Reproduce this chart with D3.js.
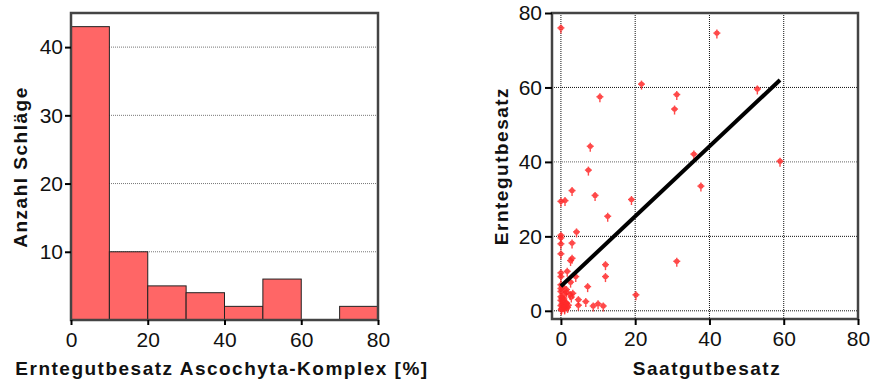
<!DOCTYPE html>
<html><head><meta charset="utf-8">
<script src="https://cdn.jsdelivr.net/npm/d3@7"></script>
<style>body{margin:0;background:#fff}svg{display:block}text{font-family:"Liberation Sans",Arial,sans-serif;fill:#111}</style>
</head><body><svg id="c" width="871" height="380"></svg>
<script>
// Histogram data
const binStarts = [0,10,20,30,40,50,60,70];
const binCounts = [43,10,5,4,2,6,0,2];
const histXTicks = [0,20,40,60,80];
const histYTicks = [10,20,30,40];
// Scatter data
const seedX = [0,10.5,21.7,31.2,30.6,7.9,7.4,42,52.9,35.8,59,37.7,31.2,
  0,1.1,3,9.2,19,12.6,4.2,0,0,3,0,0,3,2.6,12,1.7,0,0,4,12,0,2.6,7.2,0,0.6,1.5,0,1,1.5,2.5,3.2,2.8,4.7,6.7,4.7,8.7,10,11.4,20.2,
  0,0,0.3,0.6,1,1.4,0.2,0.8,1.2,1.8,0,0.5,1,1.5,0.3,0.9,2,0.1];
const harvestY = [76,57.5,60.9,58.1,54.2,44.2,37.8,74.6,59.6,42.1,40.2,33.5,13.3,
  29.4,29.6,32.3,31,29.9,25.4,21.2,20.3,19.6,18.2,18,15.3,14.1,13.5,12.4,10.6,10.2,9.2,9.2,9.2,7,7.7,6.5,6,6.4,5.7,5.2,4.5,5,4.4,4.7,3.7,3,2.5,1.5,1.3,1.9,1.3,4.3,
  3.8,2.8,1.8,1.2,0.8,2.2,0.6,3.2,1.6,0.9,1.4,2.6,0.5,2,3.4,1.1,1.5,0.3];
const regX = [0,59];
const regY = [6.6,62];
const scatTicks = [0,20,40,60,80];

const svg = d3.select("#c");
const red = "#ff2a2a";
const tickFont = 21, titleFont = 19, titleSpacing = 1.5;

// ---------- Left: histogram ----------
const L = {l:71,r:378,t:13,b:320};
const hx = d3.scaleLinear().domain([0,80]).range([L.l,L.r]);
const hy = d3.scaleLinear().domain([0,45]).range([L.b,L.t]);
const g1 = svg.append("g");
g1.selectAll("line.grid").data(histYTicks).join("line")
  .attr("x1",L.l).attr("x2",L.r).attr("y1",d=>hy(d)).attr("y2",d=>hy(d))
  .attr("stroke","#777").attr("stroke-width",1).attr("stroke-dasharray","1,1");
g1.selectAll("rect.bar").data(binStarts.map((s,i)=>({s,c:binCounts[i]})).filter(d=>d.c>0)).join("rect")
  .attr("x",d=>hx(d.s)).attr("width",d=>hx(d.s+10)-hx(d.s))
  .attr("y",d=>hy(d.c)).attr("height",d=>hy(0)-hy(d.c))
  .attr("fill","#ff6666").attr("stroke","#222").attr("stroke-width",1);
g1.append("rect").attr("x",L.l).attr("y",L.t).attr("width",L.r-L.l).attr("height",L.b-L.t)
  .attr("fill","none").attr("stroke","#444").attr("stroke-width",2.5);
const ax1 = g1.append("g").attr("transform",`translate(0,${L.b})`)
  .call(d3.axisBottom(hx).tickValues(histXTicks).tickSize(5).tickPadding(7).tickFormat(d3.format("d")));
const ay1 = g1.append("g").attr("transform",`translate(${L.l},0)`)
  .call(d3.axisLeft(hy).tickValues(histYTicks).tickSize(6).tickPadding(2).tickFormat(d3.format("d")));
[ax1,ay1].forEach(a=>{a.select(".domain").remove();a.selectAll("line").attr("stroke","#000").attr("stroke-width",2);
  a.selectAll("text").attr("font-size",tickFont).attr("font-family","Liberation Sans, Arial, sans-serif").attr("fill","#111");});
g1.append("text").attr("x",222).attr("y",375).attr("text-anchor","middle").attr("font-size",titleFont).attr("font-weight","bold")
  .attr("letter-spacing",titleSpacing).text("Erntegutbesatz Ascochyta-Komplex [%]");
g1.append("text").attr("transform","translate(27,167) rotate(-90)").attr("text-anchor","middle").attr("font-size",titleFont).attr("font-weight","bold")
  .attr("letter-spacing",titleSpacing).text("Anzahl Schläge");

// ---------- Right: scatter ----------
const R = {l:552,r:858,t:13,b:319};
const sx = d3.scaleLinear().domain([-2.4,80]).range([R.l,R.r]);
const sy = d3.scaleLinear().domain([-2.2,80]).range([R.b,R.t]);
const g2 = svg.append("g");
g2.selectAll("line.vg").data(scatTicks.slice(0,4)).join("line")
  .attr("x1",d=>sx(d)).attr("x2",d=>sx(d)).attr("y1",R.t).attr("y2",R.b)
  .attr("stroke","#111").attr("stroke-width",1).attr("stroke-dasharray","1,1");
g2.selectAll("line.hg").data(scatTicks.slice(0,4)).join("line")
  .attr("x1",R.l).attr("x2",R.r).attr("y1",d=>sy(d)).attr("y2",d=>sy(d))
  .attr("stroke",(d)=>d===40?"#666":"#111").attr("stroke-width",1).attr("stroke-dasharray","1,1");
const pts = seedX.map((x,i)=>({x,y:harvestY[i]}));
const mk = g2.selectAll("g.pt").data(pts).join("g")
  .attr("transform",d=>`translate(${sx(d.x)},${sy(d.y)})`).attr("opacity",0.85);
mk.append("line").attr("x1",0).attr("x2",0).attr("y1",-3.5).attr("y2",5.5).attr("stroke",red).attr("stroke-width",1.4);
mk.append("line").attr("x1",-3.5).attr("x2",3.5).attr("y1",0).attr("y2",0).attr("stroke",red).attr("stroke-width",1.4);
mk.append("circle").attr("r",2.6).attr("fill",red);
g2.append("line").attr("x1",sx(regX[0])).attr("y1",sy(regY[0])).attr("x2",sx(regX[1])).attr("y2",sy(regY[1]))
  .attr("stroke","#000").attr("stroke-width",4);
g2.append("rect").attr("x",R.l).attr("y",R.t).attr("width",R.r-R.l).attr("height",R.b-R.t)
  .attr("fill","none").attr("stroke","#444").attr("stroke-width",2.5);
const ax2 = g2.append("g").attr("transform",`translate(0,${R.b})`)
  .call(d3.axisBottom(sx).tickValues(scatTicks).tickSize(6).tickPadding(6).tickFormat(d3.format("d")));
const ay2 = g2.append("g").attr("transform",`translate(${R.l},0)`)
  .call(d3.axisLeft(sy).tickValues(scatTicks).tickSize(7).tickPadding(3).tickFormat(d3.format("d")));
[ax2,ay2].forEach(a=>{a.select(".domain").remove();a.selectAll("line").attr("stroke","#000").attr("stroke-width",2);
  a.selectAll("text").attr("font-size",tickFont).attr("font-family","Liberation Sans, Arial, sans-serif").attr("fill","#111");});
g2.append("text").attr("x",707).attr("y",375).attr("text-anchor","middle").attr("font-size",titleFont).attr("font-weight","bold")
  .attr("letter-spacing",titleSpacing).text("Saatgutbesatz");
g2.append("text").attr("transform","translate(508,166) rotate(-90)").attr("text-anchor","middle").attr("font-size",titleFont).attr("font-weight","bold")
  .attr("letter-spacing",titleSpacing).text("Erntegutbesatz");
</script></body></html>
